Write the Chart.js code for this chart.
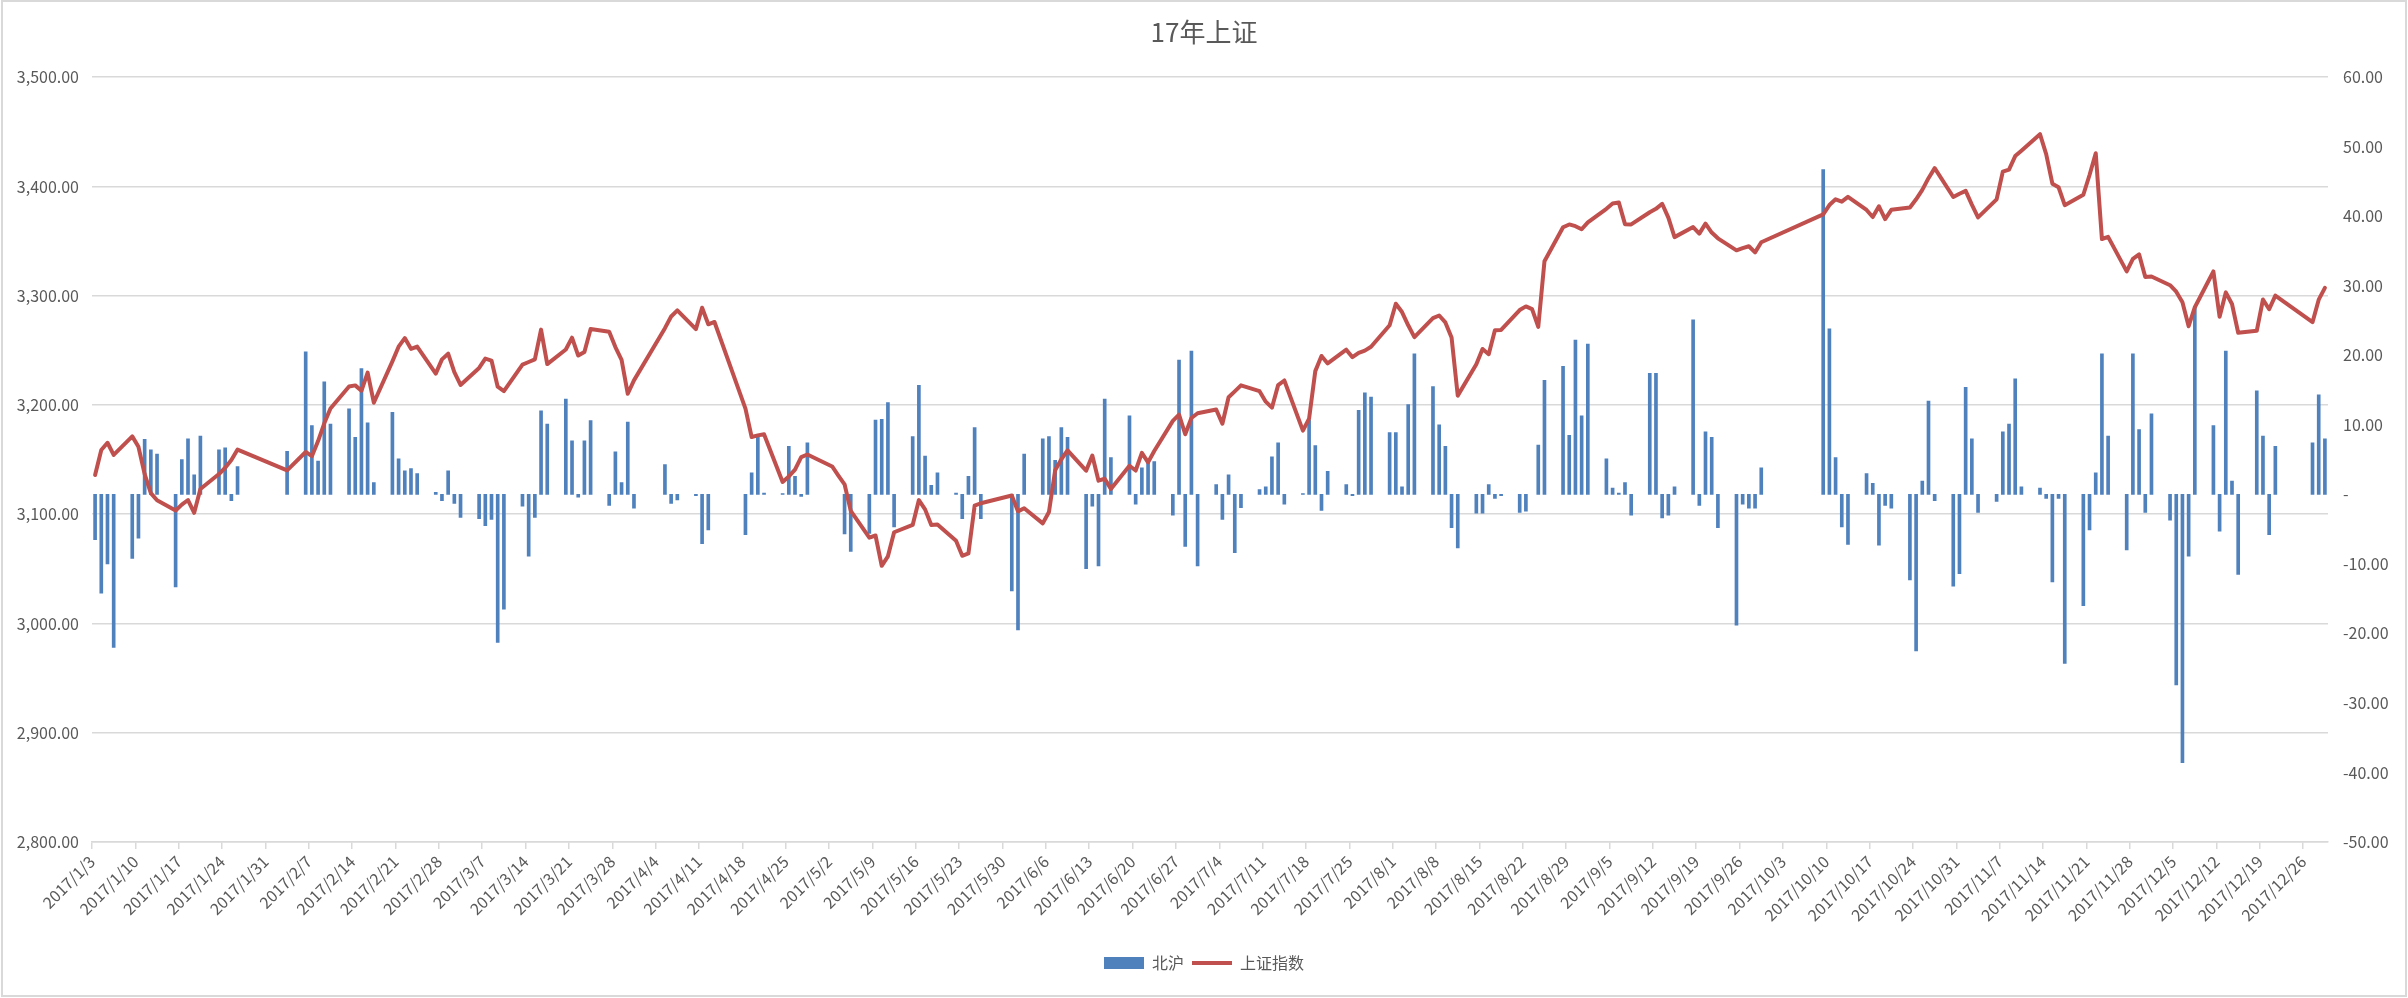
<!DOCTYPE html>
<html>
<head>
<meta charset="utf-8">
<title>17年上证</title>
<script src="https://cdn.jsdelivr.net/npm/chart.js"></script>
<style>
  html, body { margin: 0; padding: 0; background: #fff; }
  #wrap { width: 2408px; height: 998px; }
</style>
</head>
<body>
<div id="wrap"><canvas id="myChart" width="2408" height="998"></canvas></div>
<script>
// trading days of 2017 (month/day)
const dates = [
  '1/3','1/4','1/5','1/6','1/9','1/10','1/11','1/12','1/13','1/16','1/17','1/18','1/19','1/20','1/23','1/24','1/25','1/26',
  '2/3','2/6','2/7','2/8','2/9','2/10','2/13','2/14','2/15','2/16','2/17','2/20','2/21','2/22','2/23','2/24','2/27','2/28',
  '3/1','3/2','3/3','3/6','3/7','3/8','3/9','3/10','3/13','3/14','3/15','3/16','3/17','3/20','3/21','3/22','3/23','3/24','3/27','3/28','3/29','3/30','3/31',
  '4/5','4/6','4/7','4/10','4/11','4/12','4/13','4/18','4/19','4/20','4/21','4/24','4/25','4/26','4/27','4/28',
  '5/2','5/3','5/4','5/5','5/8','5/9','5/10','5/11','5/12','5/15','5/16','5/17','5/18','5/19','5/22','5/23','5/24','5/25','5/26','5/31',
  '6/1','6/2','6/5','6/6','6/7','6/8','6/9','6/12','6/13','6/14','6/15','6/16','6/19','6/20','6/21','6/22','6/23','6/26','6/27','6/28','6/29','6/30',
  '7/3','7/4','7/5','7/6','7/7','7/10','7/11','7/12','7/13','7/14','7/17','7/18','7/19','7/20','7/21','7/24','7/25','7/26','7/27','7/28','7/31',
  '8/1','8/2','8/3','8/4','8/7','8/8','8/9','8/10','8/11','8/14','8/15','8/16','8/17','8/18','8/21','8/22','8/23','8/24','8/25','8/28','8/29','8/30','8/31',
  '9/1','9/4','9/5','9/6','9/7','9/8','9/11','9/12','9/13','9/14','9/15','9/18','9/19','9/20','9/21','9/22','9/25','9/26','9/27','9/28','9/29',
  '10/9','10/10','10/11','10/12','10/13','10/16','10/17','10/18','10/19','10/20','10/23','10/24','10/25','10/26','10/27','10/30','10/31',
  '11/1','11/2','11/3','11/6','11/7','11/8','11/9','11/10','11/13','11/14','11/15','11/16','11/17','11/20','11/21','11/22','11/23','11/24','11/27','11/28','11/29','11/30',
  '12/1','12/4','12/5','12/6','12/7','12/8','12/11','12/12','12/13','12/14','12/15','12/18','12/19','12/20','12/21','12/27','12/28','12/29'
];

// 上证指数 (left axis)
const shIndex = [
  3135.92,3158.79,3165.41,3154.32,3171.24,3161.67,3136.75,3119.29,3112.76,3103.43,3108.77,3113.01,3101.30,3123.14,3136.77,3142.55,3149.55,3159.17,
  3140.17,3156.98,3153.09,3166.98,3183.18,3196.70,3216.84,3217.93,3212.99,3229.62,3202.08,3239.96,3253.33,3261.22,3251.36,3253.43,3228.66,3241.73,
  3246.93,3230.03,3218.31,3233.87,3242.41,3240.66,3216.75,3212.76,3237.02,3239.33,3241.76,3268.94,3237.45,3250.81,3261.61,3245.22,3248.55,3269.45,3266.96,3252.95,3241.31,3210.24,3222.51,
  3270.30,3281.00,3286.62,3269.39,3288.97,3273.83,3275.96,3196.71,3170.69,3172.17,3173.15,3129.53,3134.57,3140.85,3152.19,3154.66,
  3143.71,3135.35,3127.37,3103.04,3078.61,3080.53,3052.79,3061.50,3083.51,3090.23,3112.96,3104.44,3090.14,3090.63,3075.68,3061.95,3064.08,3107.83,3110.06,3117.18,
  3102.62,3105.54,3091.66,3102.10,3140.32,3150.33,3158.40,3139.88,3153.74,3130.67,3132.49,3123.17,3144.37,3140.01,3156.21,3147.45,3157.87,3185.44,3191.20,3173.20,3188.06,3192.43,
  3195.91,3182.80,3207.13,3212.44,3217.96,3212.63,3203.04,3197.54,3218.16,3222.42,3176.49,3187.57,3230.98,3244.86,3237.98,3250.60,3243.69,3247.67,3249.78,3253.24,3273.03,
  3292.64,3285.06,3272.93,3262.08,3279.46,3281.87,3275.57,3261.75,3208.54,3237.36,3251.26,3246.45,3268.43,3268.72,3286.91,3290.23,3287.71,3271.51,3331.52,3362.65,3365.23,3363.63,3360.81,
  3367.12,3379.58,3384.32,3385.39,3365.50,3365.24,3376.42,3379.49,3384.15,3371.43,3353.62,3362.86,3356.84,3366.00,3357.81,3352.53,3341.55,3343.58,3345.27,3339.64,3348.94,
  3374.38,3382.99,3388.28,3386.10,3390.52,3378.47,3372.04,3381.79,3370.17,3378.65,3380.70,3388.25,3396.90,3407.57,3416.81,3390.34,3393.34,
  3395.91,3383.31,3371.74,3388.17,3413.57,3415.46,3427.79,3432.67,3447.84,3429.55,3402.52,3399.25,3382.91,3392.40,3410.50,3430.46,3351.92,3353.82,3322.23,3333.66,3337.86,3317.19,
  3317.62,3309.62,3303.68,3293.96,3272.05,3289.45,3322.20,3280.81,3303.04,3292.44,3266.14,3267.92,3296.54,3287.61,3300.06,3275.78,3296.38,3307.17
];

// 北沪 net flow (right axis), null = no trading
const northFlow = [
  -6.5,-14.2,-10.0,-22.0,-9.2,-6.3,7.9,6.4,5.8,-13.3,5.0,8.0,2.8,8.4,6.4,6.7,-0.9,4.0,
  6.2,20.5,9.9,4.8,16.2,10.1,12.3,8.2,18.1,10.3,1.7,11.8,5.1,3.4,3.7,3.0,0.3,-0.9,
  3.4,-1.3,-3.3,-3.5,-4.5,-3.6,-21.3,-16.5,-1.7,-8.9,-3.3,12.0,10.1,13.7,7.7,-0.4,7.7,10.6,-1.6,6.1,1.7,10.4,-2.0,
  4.3,-1.3,-0.8,-0.2,-7.1,-5.1,null,-5.8,3.1,8.3,0.2,0.1,6.9,2.6,-0.3,7.4,
  null,null,-5.7,-8.2,-5.6,10.7,10.8,13.2,-4.7,8.3,15.7,5.5,1.3,3.1,0.2,-3.5,2.6,9.6,-3.5,-13.9,
  -19.5,5.8,8.0,8.3,4.9,9.6,8.2,-10.7,-1.7,-10.3,13.7,5.3,11.3,-1.4,3.8,4.7,4.7,-3.0,19.3,-7.5,20.6,-10.3,
  1.4,-3.6,2.8,-8.4,-1.9,0.7,1.1,5.4,7.4,-1.4,0.1,10.7,7.0,-2.3,3.3,1.4,-0.2,12.1,14.6,14.0,8.9,
  8.9,1.1,12.9,20.2,15.5,10.0,6.9,-4.8,-7.7,-2.7,-2.7,1.4,-0.6,-0.2,-2.6,-2.4,null,7.1,16.4,18.4,8.5,22.2,11.3,
  21.6,5.1,0.9,0.2,1.7,-3.0,17.4,17.4,-3.4,-3.0,1.1,25.1,-1.6,9.0,8.2,-4.8,-18.8,-1.4,-2.0,-2.0,3.8,
  46.7,23.8,5.3,-4.7,-7.2,3.0,1.6,-7.3,-1.6,-2.0,-12.3,-22.5,1.9,13.4,-0.9,-13.2,-11.4,
  15.4,8.0,-2.6,-1.0,9.0,10.1,16.6,1.1,0.9,-0.6,-12.6,-0.6,-24.3,-16.0,-5.1,3.1,20.2,8.4,-8.0,20.2,9.3,-2.6,
  11.6,-3.7,-27.4,-38.6,-8.9,26.9,9.9,-5.3,20.6,1.9,-11.5,14.9,8.4,-5.8,6.9,7.4,14.3,8.0
];

// weekly date-axis labels
const xTickLabels = [
  '2017/1/3','2017/1/10','2017/1/17','2017/1/24','2017/1/31','2017/2/7','2017/2/14','2017/2/21','2017/2/28',
  '2017/3/7','2017/3/14','2017/3/21','2017/3/28','2017/4/4','2017/4/11','2017/4/18','2017/4/25',
  '2017/5/2','2017/5/9','2017/5/16','2017/5/23','2017/5/30','2017/6/6','2017/6/13','2017/6/20','2017/6/27',
  '2017/7/4','2017/7/11','2017/7/18','2017/7/25','2017/8/1','2017/8/8','2017/8/15','2017/8/22','2017/8/29',
  '2017/9/5','2017/9/12','2017/9/19','2017/9/26','2017/10/3','2017/10/10','2017/10/17','2017/10/24','2017/10/31',
  '2017/11/7','2017/11/14','2017/11/21','2017/11/28','2017/12/5','2017/12/12','2017/12/19','2017/12/26'
];

const FONT = '"Noto Sans CJK SC", "Noto Sans", sans-serif';
const GREY = '#595959';

// days since 2017/1/3
function dayOf(s) {
  const p = s.split('/').map(Number);
  const m = p[p.length - 2], d = p[p.length - 1];
  return (Date.UTC(2017, m - 1, d) - Date.UTC(2017, 0, 3)) / 864e5;
}

const lineData = dates.map((s, i) => ({ x: dayOf(s) + 0.5, y: shIndex[i] }));
const barData = dates
  .map((s, i) => northFlow[i] === null ? null : ({ x: dayOf(s) + 0.5, y: northFlow[i] }))
  .filter(p => p !== null);

const frame = {
  id: 'frame',
  beforeDraw(chart) {
    const c = chart.ctx;
    c.save();
    c.strokeStyle = '#D9D9D9';
    c.lineWidth = 2;
    c.strokeRect(2, 1, chart.width - 4, chart.height - 3);
    c.restore();
  }
};

const ctx = document.querySelector('#myChart');

new Chart(ctx, {
  type: 'bar',
  data: {
    datasets: [{
      type: 'bar',
      label: '北沪',
      data: barData,
      yAxisID: 'y1',
      backgroundColor: '#4F81BD',
      borderWidth: 0,
      barThickness: 3,
      pointStyle: 'rect',
      order: 2
    }, {
      type: 'line',
      label: '上证指数',
      data: lineData,
      yAxisID: 'y',
      borderColor: '#C0504D',
      backgroundColor: '#C0504D',
      borderWidth: 4,
      borderJoinStyle: 'round',
      borderCapStyle: 'round',
      pointRadius: 0,
      pointStyle: 'line',
      tension: 0,
      order: 1
    }]
  },
  plugins: [frame],
  options: {
    responsive: false,
    animation: false,
    layout: { padding: { top: 0, right: 0, bottom: 17, left: 0 } },

    plugins: {
      title: {
        display: true,
        text: '17年上证',
        color: GREY,
        font: { family: FONT, size: 26, weight: 'normal' },
        padding: { top: 17, bottom: 29 }
      },
      legend: {
        position: 'bottom',
        labels: {
          usePointStyle: true,
          pointStyleWidth: 40,
          boxHeight: 12,
          padding: 8,
          color: GREY,
          font: { family: FONT, size: 16 },
          sort: (a, b) => a.datasetIndex - b.datasetIndex
        }
      },
      tooltip: { enabled: false }
    },

    scales: {
      x: {
        type: 'linear',
        min: 0,
        max: dayOf('12/30'),
        offset: false,
        afterBuildTicks: axis => { axis.ticks = xTickLabels.map(s => ({ value: dayOf(s) })); },
        afterFit: axis => { axis.height = 105; },
        grid: {
          offset: false,
          drawOnChartArea: false,
          drawTicks: true,
          tickLength: 7,
          color: '#D9D9D9',
          lineWidth: 1.5
        },
        border: { color: '#D9D9D9', width: 1.5 },
        ticks: {
          autoSkip: false,
          minRotation: 45,
          maxRotation: 45,
          color: GREY,
          font: { family: FONT, size: 16 },
          callback: (v, i) => xTickLabels[i]
        }
      },
      y: {
        position: 'left',
        min: 2800,
        max: 3500,
        afterFit: axis => { axis.width = 92; },
        grid: { color: '#D9D9D9', lineWidth: 1.5, drawTicks: false },
        border: { display: false },
        ticks: {
          stepSize: 100,
          padding: 13,
          color: GREY,
          font: { family: FONT, size: 16 },
          callback: v => v.toLocaleString('en-US', { minimumFractionDigits: 2, maximumFractionDigits: 2 })
        }
      },
      y1: {
        position: 'right',
        min: -50,
        max: 60,
        afterFit: axis => { axis.width = 80; },
        grid: { display: false, drawTicks: false },
        border: { display: false },
        ticks: {
          stepSize: 10,
          padding: 15,
          color: GREY,
          font: { family: FONT, size: 16 },
          callback: v => v === 0 ? '-' : v.toFixed(2)
        }
      }
    }
  }
});
</script>
</body>
</html>
